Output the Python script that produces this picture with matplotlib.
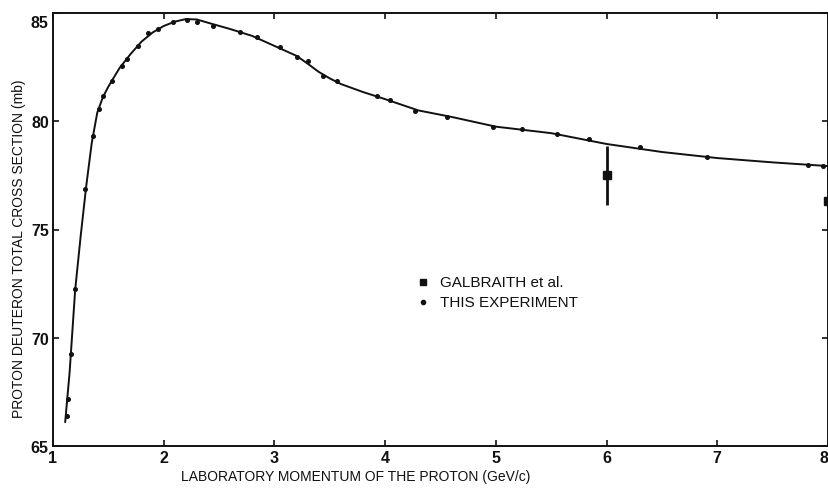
import matplotlib
matplotlib.use("Agg")
import matplotlib.pyplot as plt
from matplotlib.transforms import ScaledTranslation

# ---- data ----
# measured points ("THIS EXPERIMENT")
exp_p = [1.126, 1.135, 1.163, 1.199, 1.289, 1.361, 1.416, 1.452, 1.533, 1.623,
         1.668, 1.768, 1.858, 1.949, 2.084, 2.211, 2.30, 2.445, 2.689, 2.843,
         3.05, 3.204, 3.30, 3.44, 3.566, 3.927, 4.044, 4.27, 4.56, 4.975,
         5.237, 5.553, 5.842, 6.30, 6.908, 7.82, 7.956]
exp_sigma = [66.39, 67.17, 69.25, 72.25, 76.87, 79.32, 80.57, 81.17, 81.86, 82.55,
             82.88, 83.48, 84.08, 84.26, 84.58, 84.68, 84.58, 84.40, 84.12, 83.89,
             83.43, 82.97, 82.78, 82.09, 81.86, 81.17, 80.98, 80.47, 80.20, 79.73,
             79.64, 79.41, 79.18, 78.81, 78.35, 77.98, 77.93]

# smooth curve drawn through the data
curve_p = [1.11, 1.15, 1.2, 1.25, 1.3, 1.35, 1.4, 1.45, 1.5, 1.6, 1.7, 1.8, 1.9,
           2.0, 2.1, 2.2, 2.3, 2.4, 2.6, 2.8, 3.0, 3.2, 3.3, 3.4, 3.5, 3.6, 3.8, 4.0,
           4.3, 4.6, 5.0, 5.5, 6.0, 6.5, 7.0, 7.5, 8.0]
curve_sigma = [66.1, 68.4, 72.2, 74.7, 77.0, 79.0, 80.4, 81.1, 81.6, 82.45, 83.1,
               83.68, 84.1, 84.4, 84.6, 84.72, 84.7, 84.55, 84.26, 83.94, 83.48,
               83.02, 82.66, 82.28, 81.98, 81.72, 81.35, 81.02, 80.5, 80.2, 79.75,
               79.45, 78.95, 78.58, 78.3, 78.1, 77.93]

galb_p = [6.0, 8.0]
galb_sigma = [77.5, 76.3]
galb_err = [1.35, 1.35]

xticks = [1, 2, 3, 4, 5, 6, 7, 8]
yticks = [65, 70, 75, 80, 85]

xlabel = "LABORATORY MOMENTUM OF THE PROTON (GeV/c)"
ylabel = "PROTON DEUTERON TOTAL CROSS SECTION (mb)"
legend_labels = ["GALBRAITH et al.", "THIS EXPERIMENT"]

plt.rcParams['font.family'] = ['Liberation Sans', 'DejaVu Sans']

W, H = 829, 489
fig = plt.figure(figsize=(W / 100, H / 100), dpi=100)
ax = fig.add_axes([53 / W, 1 - 447 / H, (828 - 53) / W, (447 - 14) / H])

ink = "#111111"
ax.plot(curve_p, curve_sigma, color=ink, lw=1.4, solid_capstyle='round',
        solid_joinstyle='round', zorder=2)
ax.plot(exp_p, exp_sigma, linestyle='none', marker='o', ms=2.6, color=ink, zorder=3)
ax.errorbar(galb_p, galb_sigma, yerr=galb_err, fmt='s', ms=5.5, color=ink,
            elinewidth=2.0, capsize=0, clip_on=False, zorder=4)

ax.set_xlim(1, 8)
ax.set_ylim(65, 85)
ax.set_xticks(xticks)
ax.set_yticks(yticks)
ax.tick_params(direction='in', length=4, width=1.2, top=True, right=True,
               labelsize=11.5, colors=ink, pad=3)
for lab in ax.get_xticklabels() + ax.get_yticklabels():
    lab.set_fontweight('bold')
for s in ax.spines.values():
    s.set_linewidth(1.4)
    s.set_color(ink)

# shift top y label down and the last x label left (as in reference, near edges)
lab = ax.get_yticklabels()[-1]
lab.set_transform(lab.get_transform() + ScaledTranslation(0, -8 / 100, fig.dpi_scale_trans))
lab = ax.get_xticklabels()[-1]
lab.set_transform(lab.get_transform() + ScaledTranslation(-4 / 100, 0, fig.dpi_scale_trans))

renderer = fig.canvas.get_renderer()


def fit(t, target_px, horizontal=True):
    bb = t.get_window_extent(renderer)
    size = bb.width if horizontal else bb.height
    t.set_fontsize(t.get_fontsize() * target_px / size)


t1 = fig.text(356 / W, 1 - 477 / H, xlabel, ha='center', va='center', fontsize=11, color=ink)
fit(t1, 350)
t2 = fig.text(19 / W, 1 - 249 / H, ylabel, ha='center', va='center', rotation=90,
              fontsize=11, color=ink)
fit(t2, 338, horizontal=False)

# legend (hand placed)
fig.lines.append(plt.Line2D([423 / W], [1 - 283 / H], marker='s', ms=5, color=ink,
                            transform=fig.transFigure, linestyle='none'))
fig.lines.append(plt.Line2D([423 / W], [1 - 303 / H], marker='o', ms=3, color=ink,
                            transform=fig.transFigure, linestyle='none'))
t3 = fig.text(440 / W, 1 - 283 / H, legend_labels[0], ha='left', va='center', fontsize=11, color=ink)
fit(t3, 123)
t4 = fig.text(440 / W, 1 - 303 / H, legend_labels[1], ha='left', va='center', fontsize=11, color=ink)
t4.set_fontsize(t3.get_fontsize())

fig.savefig("out.png", dpi=100)
